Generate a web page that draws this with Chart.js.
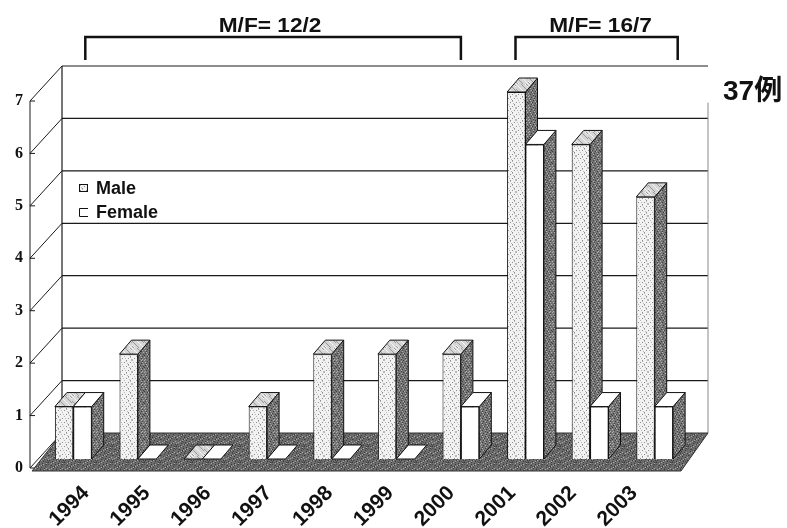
<!DOCTYPE html>
<html><head><meta charset="utf-8">
<script src="https://cdn.jsdelivr.net/npm/chart.js@4.4.1/dist/chart.umd.min.js"></script>
<style>html,body{margin:0;padding:0;background:#fff;}canvas{display:block}</style>
</head><body>
<canvas id="c" width="787" height="528"></canvas>
<script>
// ---- data ----
const years = ['1994','1995','1996','1997','1998','1999','2000','2001','2002','2003'];
const male = [1, 2, 0, 1, 2, 2, 2, 7, 6, 5];
const female = [1, 0, 0, 0, 0, 0, 1, 6, 1, 1];
const yTicks = [0, 1, 2, 3, 4, 5, 6, 7];
const legendLabels = ['Male', 'Female'];
const groupLabels = ['M/F= 12/2', 'M/F= 16/7'];
const totalLabel = '37例';

// ---- styling helpers ----
const canvas = document.getElementById('c');
const ctx = canvas.getContext('2d');
function makePattern(size, bg, rules) {
  const c = document.createElement('canvas'); c.width = size; c.height = size;
  const g = c.getContext('2d'); g.fillStyle = bg; g.fillRect(0, 0, size, size);
  for (let y = 0; y < size; y++) for (let x = 0; x < size; x++) {
    for (const [fn, col] of rules) if (fn(x, y)) { g.fillStyle = col; g.fillRect(x, y, 1, 1); }
  }
  return ctx.createPattern(c, 'repeat');
}
const maleFront = makePattern(12, '#f2f2f2', [
  [(x, y) => (x + y) % 6 === 0 && (x % 2 === 0), '#8c8c8c'],
  [(x, y) => (x * 5 + y * 3) % 11 === 0, '#b8b8b8']
]);
const maleTop = makePattern(12, '#d6d6d6', [
  [(x, y) => (x * 3 + y * 7) % 5 === 0, '#9a9a9a'],
  [(x, y) => (x * 7 + y * 2) % 9 === 0, '#f4f4f4']
]);
const sideFill = makePattern(12, '#747474', [
  [(x, y) => (x * 3 + y * 5) % 7 === 0, '#3e3e3e'],
  [(x, y) => (x * 5 + y * 2) % 9 === 0, '#b0b0b0']
]);
const floorFill = makePattern(16, '#6c6c6c', [
  [(x, y) => (x * 3 + y * 5) % 7 === 0, '#3a3a3a'],
  [(x, y) => (x * 7 + y * 3) % 11 === 0, '#a8a8a8'],
  [(x, y) => (x * 2 + y * 9) % 13 === 0, '#505050']
]);

const DEPTH = {dx: 12, dy: -14};   // bar depth
const BACK = {dx: 21, dy: -26};    // back wall offset from bar plane
const FRONT = {dx: -11, dy: 9};    // front axis offset from bar plane

function line(c, x1, y1, x2, y2) { c.beginPath(); c.moveTo(x1, y1); c.lineTo(x2, y2); c.stroke(); }
function poly(c, pts, fill) {
  c.beginPath(); c.moveTo(pts[0][0], pts[0][1]);
  for (let i = 1; i < pts.length; i++) c.lineTo(pts[i][0], pts[i][1]);
  c.closePath(); c.fillStyle = fill; c.fill(); c.stroke();
}
function faces(c, el, topFill) {
  const {x, y, base, width} = el.getProps(['x', 'y', 'base', 'width'], true);
  const l = x - width / 2, r = x + width / 2;
  if (base - y > 0.5) {
    poly(c, [[r, y], [r + DEPTH.dx, y + DEPTH.dy], [r + DEPTH.dx, base + DEPTH.dy], [r, base]], sideFill);
  }
  poly(c, [[l, y], [r, y], [r + DEPTH.dx, y + DEPTH.dy], [l + DEPTH.dx, y + DEPTH.dy]], topFill);
}

const fake3d = {
  id: 'fake3d',
  beforeDatasetsDraw(chart) {
    const c = chart.ctx, {left: L, right: R} = chart.chartArea, ys = chart.scales.y;
    const by = v => ys.getPixelForValue(v);
    c.save();
    c.strokeStyle = '#1a1a1a'; c.lineWidth = 1.2;
    yTicks.forEach(v => { if (v > 0) line(c, L + BACK.dx, by(v) + BACK.dy, R + BACK.dx, by(v) + BACK.dy); });
    line(c, L + BACK.dx, by(7) + BACK.dy, L + BACK.dx, by(0) + BACK.dy);
    c.strokeStyle = '#888'; c.lineWidth = 1;
    line(c, R + BACK.dx, by(6.3) + BACK.dy, R + BACK.dx, by(0) + BACK.dy);
    c.strokeStyle = '#1a1a1a';
    yTicks.forEach(v => line(c, L + FRONT.dx, by(v) + FRONT.dy, L + BACK.dx, by(v) + BACK.dy));
    line(c, L + FRONT.dx, by(7) + FRONT.dy, L + FRONT.dx, by(0) + FRONT.dy);
    yTicks.forEach(v => line(c, L + FRONT.dx, by(v) + FRONT.dy, L + FRONT.dx + 5, by(v) + FRONT.dy));
    c.strokeStyle = '#333';
    poly(c, [[L - 9, by(0) + 12], [R - 6, by(0) + 12], [R + BACK.dx, by(0) + BACK.dy], [L + BACK.dx, by(0) + BACK.dy]], floorFill);
    c.restore();
  },
  afterDatasetsDraw(chart) {
    const c = chart.ctx;
    const mMeta = chart.getDatasetMeta(0), fMeta = chart.getDatasetMeta(1);
    c.save();
    c.strokeStyle = '#111'; c.lineWidth = 1; c.lineJoin = 'round';
    mMeta.data.forEach((mEl, i) => {
      const fEl = fMeta.data[i];
      faces(c, mEl, maleTop);
      c.save(); fEl.draw(c); c.restore();
      c.strokeStyle = '#111'; c.lineWidth = 1;
      faces(c, fEl, '#ffffff');
    });
    c.restore();
  },
  afterDraw(chart) {
    const c = chart.ctx, {left: L, right: R, top: T} = chart.chartArea, xs = chart.scales.x;
    c.save();
    c.strokeStyle = '#111'; c.lineWidth = 1;
    c.fillStyle = maleFront;
    c.fillRect(L + 38.5, T + 92.5, 8, 7); c.strokeRect(L + 38.5, T + 92.5, 8, 7);
    c.beginPath(); c.moveTo(L + 47, T + 116.5); c.lineTo(L + 38.5, T + 116.5); c.lineTo(L + 38.5, T + 124.5); c.lineTo(L + 47, T + 124.5); c.stroke();
    c.fillStyle = '#111'; c.font = 'bold 18px "Liberation Sans", Arial, sans-serif';
    c.textBaseline = 'middle'; c.textAlign = 'left';
    c.fillText(legendLabels[0], L + 55, T + 97);
    c.fillText(legendLabels[1], L + 55, T + 121);
    const groups = [
      [xs.getPixelForValue(0) + 12, xs.getPixelForValue(6), groupLabels[0], 0],
      [xs.getPixelForValue(7) - 10, xs.getPixelForValue(9) + 23, groupLabels[1], 7]
    ];
    c.lineWidth = 2.5; c.strokeStyle = '#111';
    groups.forEach(([a, b, txt, sh]) => {
      c.beginPath(); c.moveTo(a, T - 32); c.lineTo(a, T - 55); c.lineTo(b, T - 55); c.lineTo(b, T - 32); c.stroke();
      c.save(); c.translate((a + b) / 2 + sh - 3, T - 60); c.scale(1.08, 1);
      c.font = 'bold 21px "Liberation Sans", Arial, sans-serif'; c.textAlign = 'center'; c.textBaseline = 'alphabetic';
      c.fillText(txt, 0, 0); c.restore();
    });
    c.font = 'bold 28px "Liberation Sans", "Noto Sans CJK JP", sans-serif';
    c.textAlign = 'left'; c.textBaseline = 'alphabetic';
    c.fillText(totalLabel, R + 36, T + 8);
    c.restore();
  }
};

new Chart(ctx, {
  type: 'bar',
  data: {
    labels: years,
    datasets: [
      {label: legendLabels[0], data: male, backgroundColor: maleFront, borderColor: '#111', borderWidth: 1},
      {label: legendLabels[1], data: female, backgroundColor: '#ffffff', borderColor: '#111', borderWidth: 1}
    ]
  },
  options: {
    responsive: false, animation: false,
    layout: {padding: {top: 92, right: 100, left: 0, bottom: 0}},
    datasets: {bar: {categoryPercentage: 0.57, barPercentage: 1}},
    plugins: {legend: {display: false}, tooltip: {enabled: false}},
    scales: {
      x: {type: 'category', display: false, offset: true},
      xl: {
        type: 'linear', position: 'bottom', bounds: 'data', offset: false, min: -0.739, max: 9.869,
        afterBuildTicks: s => { s.ticks = years.map((_, i) => ({value: i})); },
        afterFit: s => { s.height = 69; },
        grid: {display: false, drawTicks: false, offset: false}, border: {display: false},
        ticks: {autoSkip: false, minRotation: 45, maxRotation: 45, padding: 22,
          font: {family: '"Liberation Sans", Arial, sans-serif', weight: 'bold', size: 21}, color: '#111',
          callback: v => years[v]}
      },
      y: {
        min: 0, max: 7,
        afterBuildTicks: s => { s.ticks = yTicks.map(v => ({value: v})); },
        afterFit: s => { s.width = 41; },
        grid: {display: false, drawTicks: false}, border: {display: false},
        ticks: {padding: 18, labelOffset: 9,
          font: {family: '"Liberation Serif", "Times New Roman", serif', weight: 'bold', size: 16}, color: '#111'}
      }
    }
  },
  plugins: [fake3d]
});
</script>
</body></html>
